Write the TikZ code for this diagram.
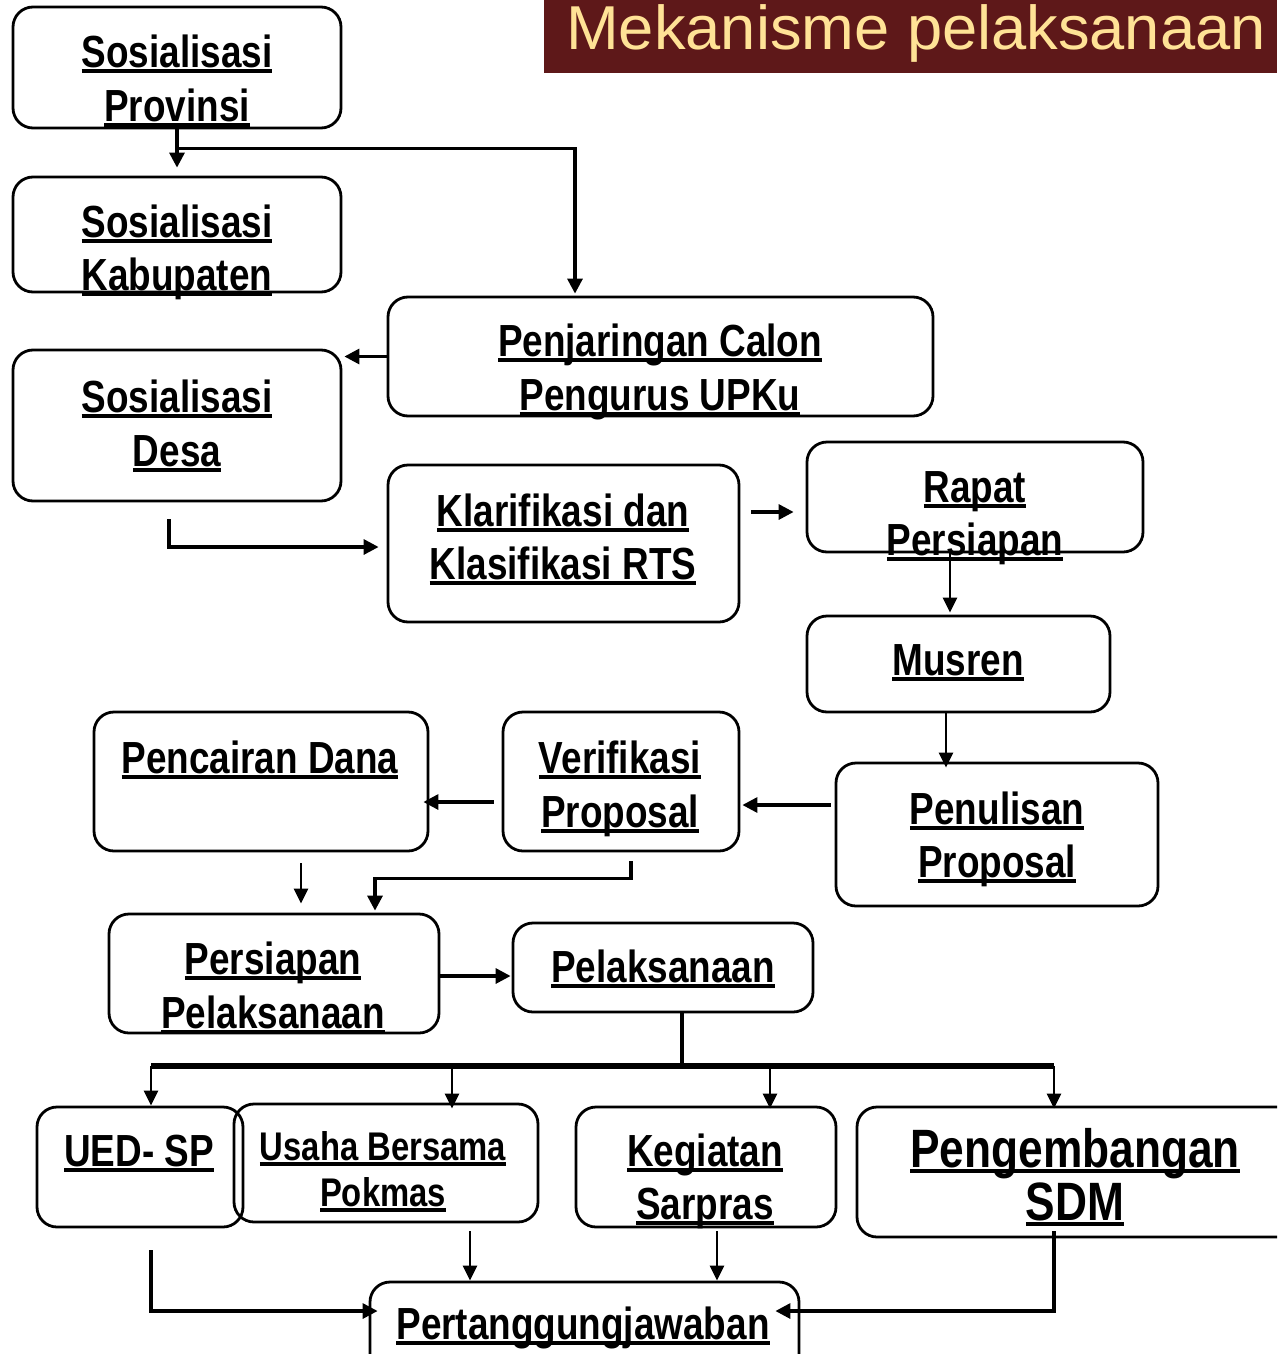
\documentclass[tikz,border=0pt]{standalone}
\usepackage{fontspec}
\setmainfont{Liberation Sans}
\newfontfamily\narrow[FakeStretch=0.82]{Liberation Sans}
\newfontfamily\titlefont[FakeStretch=1.02]{Liberation Sans}
\usetikzlibrary{arrows.meta,calc}
\definecolor{titlebg}{RGB}{94,24,25}
\definecolor{titlefg}{RGB}{255,226,150}
\newcommand\ulx[1]{\setbox0\hbox{#1}\rlap{\rule[-6pt]{\wd0}{4pt}}\box0}
\tikzset{
  box/.style={draw, line width=2.8pt, rounded corners=20pt, inner sep=0pt},
  lbl/.style={anchor=base, inner sep=0pt, font=\narrow\bfseries\fontsize{45}{54}\selectfont},
  lblsmall/.style={lbl, font=\narrow\bfseries\fontsize{40}{48}\selectfont},
  lblbig/.style={lbl, font=\narrow\fontsize{54}{60}\selectfont\bfseries},
  con/.style={line width=3.2pt, -{Triangle[length=15pt,width=15pt]}},
  conthin/.style={line width=2.4pt, -{Triangle[length=15pt,width=14pt]}},
  plain/.style={line width=3.2pt}
}
\begin{document}
\begin{tikzpicture}[x=1pt,y=-1pt]
\useasboundingbox (0,0) rectangle (1277,1354);
\clip (0,0) rectangle (1277,1354);
% title
\node[fill=titlebg, minimum width=733pt, minimum height=73pt, inner sep=0pt, anchor=north west] (title) at (544,0) {};
\node[anchor=base, inner sep=0pt, text=titlefg, font=\titlefont\fontsize{62}{70}\selectfont] (titletext) at (916,49) {Mekanisme pelaksanaan};
% boxes
\node[box, minimum width=328pt, minimum height=121pt] (prov) at (177,67.5) {};
\node[box, minimum width=328pt, minimum height=115pt] (kab) at (177,234.5) {};
\node[box, minimum width=545pt, minimum height=119pt] (penj) at (660.5,356.5) {};
\node[box, minimum width=328pt, minimum height=151pt] (desa) at (177,425.5) {};
\node[box, minimum width=351pt, minimum height=157pt] (klar) at (563.5,543.5) {};
\node[box, minimum width=336pt, minimum height=110pt] (rapat) at (975,497) {};
\node[box, minimum width=303pt, minimum height=96pt] (musren) at (958.5,664) {};
\node[box, minimum width=322pt, minimum height=143pt] (penul) at (997,834.5) {};
\node[box, minimum width=236pt, minimum height=139pt] (verif) at (621,781.5) {};
\node[box, minimum width=334pt, minimum height=139pt] (pencair) at (261,781.5) {};
\node[box, minimum width=330pt, minimum height=119pt] (persiap) at (274,973.5) {};
\node[box, minimum width=300pt, minimum height=89pt] (pelak) at (663,967.5) {};
\node[box, minimum width=206pt, minimum height=120pt] (ued) at (140,1167) {};
\node[box, minimum width=304pt, minimum height=118pt] (usaha) at (386,1163) {};
\node[box, minimum width=260pt, minimum height=120pt] (keg) at (706,1167) {};
\node[box, minimum width=443pt, minimum height=130pt] (peng) at (1078.5,1172) {};
\node[box, minimum width=429pt, minimum height=98pt] (pert) at (584.5,1331) {};
% labels
\node[lbl] (provA) at (177,67) {\ulx{Sosialisasi}};
\node[lbl] (provB) at (177,121) {\ulx{Provinsi}};
\node[lbl] (kabA) at (177,237) {\ulx{Sosialisasi}};
\node[lbl] (kabB) at (177,290) {\ulx{Kabupaten}};
\node[lbl] (penjA) at (660,356) {\ulx{Penjaringan Calon}};
\node[lbl] (penjB) at (660,410) {\ulx{Pengurus UPKu}};
\node[lbl] (desaA) at (177,412) {\ulx{Sosialisasi}};
\node[lbl] (desaB) at (177,466) {\ulx{Desa}};
\node[lbl] (klarA) at (563,526) {\ulx{Klarifikasi dan}};
\node[lbl] (klarB) at (563,579) {\ulx{Klasifikasi RTS}};
\node[lbl] (rapatA) at (975,502) {\ulx{Rapat}};
\node[lbl] (rapatB) at (975,555) {\ulx{Persiapan}};
\node[lbl] (musrenA) at (958,675) {\ulx{Musren}};
\node[lbl] (penulA) at (997,824) {\ulx{Penulisan}};
\node[lbl] (penulB) at (997,877) {\ulx{Proposal}};
\node[lbl] (verifA) at (620,773) {\ulx{Verifikasi}};
\node[lbl] (verifB) at (620,827) {\ulx{Proposal}};
\node[lbl] (pencairA) at (260,773) {\ulx{Pencairan Dana}};
\node[lbl] (persiapA) at (273,974) {\ulx{Persiapan}};
\node[lbl] (persiapB) at (273,1028) {\ulx{Pelaksanaan}};
\node[lbl] (pelakA) at (663,982) {\ulx{Pelaksanaan}};
\node[lbl] (uedA) at (139,1166) {\ulx{UED- SP}};
\node[lblsmall] (usahaA) at (383,1160) {\ulx{Usaha Bersama}};
\node[lblsmall] (usahaB) at (383,1206) {\ulx{Pokmas}};
\node[lbl] (kegA) at (705,1166) {\ulx{Kegiatan}};
\node[lbl] (kegB) at (705,1219) {\ulx{Sarpras}};
\node[lblbig] (pengA) at (1075,1167) {\ulx{Pengembangan}};
\node[lblbig] (pengB) at (1075,1220) {\ulx{SDM}};
\node[lbl] (pertA) at (583,1339) {\ulx{Pertanggungjawaban}};
% connectors
\coordinate (j1) at ($(prov.south)+(0,19)$);
\draw[con, shorten >=8pt] (prov.south) -- (kab.north);
\draw[con] (j1) -| ($(penj.north)+(-85.5,-2)$);
\draw[con] (penj.west) -- ($(desa.east |- penj.west)+(2,0)$);
\coordinate (d1) at ($(desa.south)+(-8,17)$);
\draw[con] (d1) |- ($(klar.west)+(-8,3.5)$);
\draw[con] ($(klar.east)+(11,-31.5)$) -- ($(rapat.west)+(-12,15)$);
\draw[conthin] ($(rapat.south)+(-25,0)$) -- ($(musren.north)+(-8.5,-2)$);
\draw[conthin] ($(musren.south)+(-12.5,0)$) -- ($(penul.north)+(-51,6)$);
\draw[con] ($(penul.west)+(-4,-29.5)$) -- ($(verif.east)+(2,23.5)$);
\draw[con] ($(verif.west)+(-8,20.5)$) -- ($(pencair.east)+(-6,20.5)$);
\draw[conthin] ($(pencair.south)+(40,11)$) -- ($(persiap.north)+(27,-9)$);
\coordinate (v1) at ($(verif.south)+(10,9)$);
\draw[con] (v1) -- ++(0,17) -| ($(persiap.north)+(101,-2)$);
\draw[con] ($(persiap.east)+(0,2.5)$) -- ($(pelak.west)+(-1,8.5)$);
\coordinate (bus) at ($(pelak.south)+(19,54)$);
\draw[plain] ($(pelak.south)+(19,0)$) -- (bus);
\draw[line width=3.2pt] ($(ued.north)+(11,-41)$) -- ($(peng.north)+(-24.5,-41)$);
\draw[conthin] (bus) -| ($(ued.north)+(11,0)$);
\draw[conthin] (bus) -| ($(usaha.north)+(66,6)$);
\draw[conthin] (bus) -| ($(keg.north)+(64,3)$);
\draw[conthin] (bus) -| ($(peng.north)+(-24.5,3)$);
\draw[con] ($(ued.south)+(11,22)$) |- ($(pert.west)+(9,-20)$);
\draw[conthin] ($(usaha.south)+(84,8)$) -- ($(pert.north)+(-114.5,0)$);
\draw[conthin] ($(keg.south)+(11,3)$) -- ($(pert.north)+(132.5,0)$);
\draw[con] ($(peng.south)+(-24.5,-7)$) |- ($(pert.east)+(-25,-20)$);
\end{tikzpicture}
\end{document}
